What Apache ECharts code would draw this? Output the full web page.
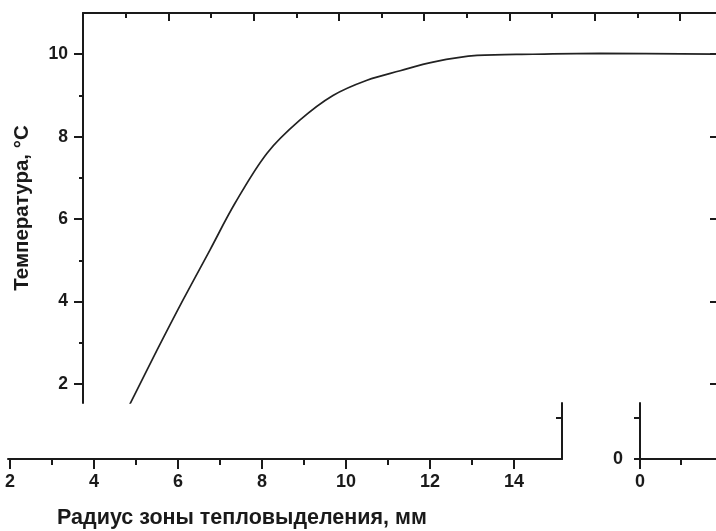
<!DOCTYPE html>
<html>
<head>
<meta charset="utf-8">
<script src="https://cdn.jsdelivr.net/npm/echarts@6/dist/echarts.min.js"></script>
<style>
  html, body { margin: 0; padding: 0; background: #fff; }
  #chart { width: 716px; height: 531px; }
</style>
</head>
<body>
<div id="chart"></div>
<script>
// радиус зоны тепловыделения, мм (по нижней шкале) и температура, °C
var radius = [4.80, 5.50, 6.12, 6.76, 7.36, 8.12, 8.90, 9.69, 10.50, 11.29, 12.07, 13.12, 14.45, 16.05, 18.85];
var temperature = [1.40, 2.82, 4.04, 5.25, 6.39, 7.60, 8.40, 9.00, 9.37, 9.60, 9.81, 9.97, 10.00, 10.02, 10.00];

var xTicks = [2, 4, 6, 8, 10, 12, 14];
var xMinorTicks = [3, 5, 7, 9, 11, 13];
var yTicks = [2, 4, 6, 8, 10];
var yMinorTicks = [3, 5, 7, 9];

var FONT = "'Liberation Sans', Arial, sans-serif";
var INK = '#1a1a1a';
var axLine = { show: true, onZero: false, lineStyle: { color: INK, width: 2 } };
var tickStyle = { color: INK, width: 2 };
var noSplit = { show: false };
var labelStyle = function (size, margin, values) {
  return { fontFamily: FONT, fontSize: size, fontWeight: 'bold', color: INK, margin: margin, customValues: values };
};

var chart = echarts.init(document.getElementById('chart'), null, { renderer: 'canvas' });

chart.setOption({
  animation: false,
  backgroundColor: '#fff',
  title: {
    text: 'Радиус зоны тепловыделения, мм',
    left: 57,
    top: 507,
    padding: 0,
    textStyle: { fontFamily: FONT, fontSize: 21.5, fontWeight: 'bold', color: INK }
  },
  grid: [
    { left: 83, top: 13, width: 635, height: 390, outerBoundsMode: 'none' },   // верхняя часть
    { left: 8, top: 403, width: 554, height: 56, outerBoundsMode: 'none' },    // нижняя часть
    { left: 640, top: 403, width: 82, height: 56, outerBoundsMode: 'none' }    // врезка справа
  ],
  xAxis: [
    {
      gridIndex: 0, type: 'value', position: 'top',
      min: 4, max: 4 + 635 / 42.65, interval: 2,
      axisLine: axLine,
      axisTick: { inside: true, length: 8, lineStyle: tickStyle },
      minorTick: { show: true, splitNumber: 2, length: 5, lineStyle: tickStyle },
      axisLabel: { show: false },
      splitLine: noSplit
    },
    {
      gridIndex: 0, type: 'value', show: false,
      min: 2 + 73 / 42, max: 2 + 708 / 42,
      splitLine: noSplit
    },
    {
      gridIndex: 1, type: 'value', position: 'bottom',
      min: 2 - 2 / 42, max: 2 + 552 / 42,
      axisLine: axLine,
      axisTick: { length: 10, customValues: xTicks, lineStyle: tickStyle },
      axisLabel: labelStyle(18, 14, xTicks),
      splitLine: noSplit
    },
    {
      gridIndex: 1, type: 'value', position: 'bottom',
      min: 2 - 2 / 42, max: 2 + 552 / 42,
      axisLine: { show: false },
      axisTick: { length: 6, customValues: xMinorTicks, lineStyle: tickStyle },
      axisLabel: { show: false },
      splitLine: noSplit
    },
    {
      gridIndex: 2, type: 'value', position: 'bottom',
      min: 0, max: 2, interval: 2,
      axisLine: axLine,
      axisTick: { length: 10, lineStyle: tickStyle },
      minorTick: { show: true, splitNumber: 2, length: 6, lineStyle: tickStyle },
      axisLabel: labelStyle(18, 14, [0]),
      splitLine: noSplit
    }
  ],
  yAxis: [
    {
      gridIndex: 0, type: 'value', position: 'left',
      min: 1.54, max: 11,
      axisLine: axLine,
      axisTick: { length: 9, customValues: yTicks, lineStyle: tickStyle },
      axisLabel: labelStyle(17.5, 15, yTicks),
      splitLine: noSplit,
      name: 'Температура, °C',
      nameLocation: 'middle',
      nameRotate: 90,
      nameGap: 50,
      nameTextStyle: { fontFamily: FONT, fontSize: 20.5, fontWeight: 'bold', color: INK }
    },
    {
      gridIndex: 0, type: 'value', position: 'left',
      min: 1.54, max: 11,
      axisLine: { show: false },
      axisTick: { length: 4, customValues: yMinorTicks, lineStyle: tickStyle },
      axisLabel: { show: false },
      splitLine: noSplit
    },
    {
      gridIndex: 0, type: 'value', position: 'right',
      min: 1.54, max: 11,
      axisLine: axLine,
      axisTick: { inside: true, length: 8, customValues: yTicks, lineStyle: tickStyle },
      axisLabel: { show: false },
      splitLine: noSplit
    },
    {
      gridIndex: 1, type: 'value', position: 'right',
      min: 0, max: 56 / 41.25,
      axisLine: axLine,
      axisTick: { inside: true, length: 6, customValues: [1], lineStyle: tickStyle },
      axisLabel: { show: false },
      splitLine: noSplit
    },
    {
      gridIndex: 2, type: 'value', position: 'left',
      min: 0, max: 56 / 41.25,
      axisLine: axLine,
      axisTick: { length: 6, customValues: [0, 1], lineStyle: tickStyle },
      axisLabel: labelStyle(18, 17, [0]),
      splitLine: noSplit
    }
  ],
  series: [
    {
      type: 'line',
      xAxisIndex: 1,
      yAxisIndex: 0,
      data: radius.map(function (r, i) { return [r, temperature[i]]; }),
      smooth: 0.35,
      showSymbol: false,
      clip: true,
      lineStyle: { color: '#222', width: 1.7 }
    }
  ]
});
</script>
</body>
</html>
